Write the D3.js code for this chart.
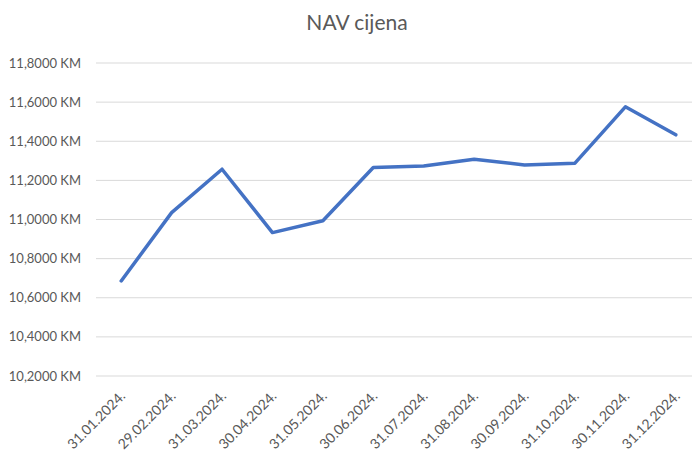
<!DOCTYPE html>
<html>
<head>
<meta charset="utf-8">
<script src="https://cdn.jsdelivr.net/npm/d3@7"></script>
<style>
  body { margin: 0; background: #fff; }
  text { font-family: Lato, "Noto Sans", sans-serif; fill: #595959; }
</style>
</head>
<body>
<script>
var dates = ["31.01.2024.", "29.02.2024.", "31.03.2024.", "30.04.2024.", "31.05.2024.", "30.06.2024.",
             "31.07.2024.", "31.08.2024.", "30.09.2024.", "31.10.2024.", "30.11.2024.", "31.12.2024."];
var nav = [10.686, 11.035, 11.257, 10.933, 10.994, 11.266, 11.274, 11.308, 11.279, 11.288, 11.576, 11.433];
var yTicks = [10.2, 10.4, 10.6, 10.8, 11.0, 11.2, 11.4, 11.6, 11.8];

var width = 692, height = 464;
var plotLeft = 96, plotRight = 701, plotTop = 63, plotBottom = 376;

var svg = d3.select("body").append("svg")
    .attr("width", width)
    .attr("height", height);

var x = d3.scalePoint()
    .domain(dates)
    .range([plotLeft, plotRight])
    .padding(0.5);

var y = d3.scaleLinear()
    .domain([10.2, 11.8])
    .range([plotBottom, plotTop]);

// title
svg.append("text")
    .attr("x", 357)
    .attr("y", 30)
    .attr("text-anchor", "middle")
    .style("font-size", "21px")
    .text("NAV cijena");

// gridlines
svg.selectAll(".grid")
    .data(yTicks)
    .enter().append("line")
    .attr("x1", plotLeft)
    .attr("x2", width)
    .attr("y1", function(d) { return y(d); })
    .attr("y2", function(d) { return y(d); })
    .attr("stroke", "#d9d9d9")
    .attr("stroke-width", 1);

// y labels
svg.selectAll(".ylab")
    .data(yTicks)
    .enter().append("text")
    .attr("x", 81)
    .attr("y", function(d) { return y(d) + 4.5; })
    .attr("text-anchor", "end")
    .style("font-size", "13px")
    .text(function(d) { return d3.format(".4f")(d).replace(".", ",") + " KM"; });

// x labels
svg.selectAll(".xlab")
    .data(dates)
    .enter().append("text")
    .attr("transform", function(d) { return "translate(" + (x(d) + 5) + ",397) rotate(-45)"; })
    .attr("text-anchor", "end")
    .style("font-size", "14px")
    .text(function(d) { return d; });

// line
var line = d3.line()
    .x(function(d, i) { return x(dates[i]); })
    .y(function(d) { return y(d); });

svg.append("path")
    .datum(nav)
    .attr("d", line)
    .attr("fill", "none")
    .attr("stroke", "#4472c4")
    .attr("stroke-width", 3.5)
    .attr("stroke-linejoin", "round")
    .attr("stroke-linecap", "round");
</script>
</body>
</html>
